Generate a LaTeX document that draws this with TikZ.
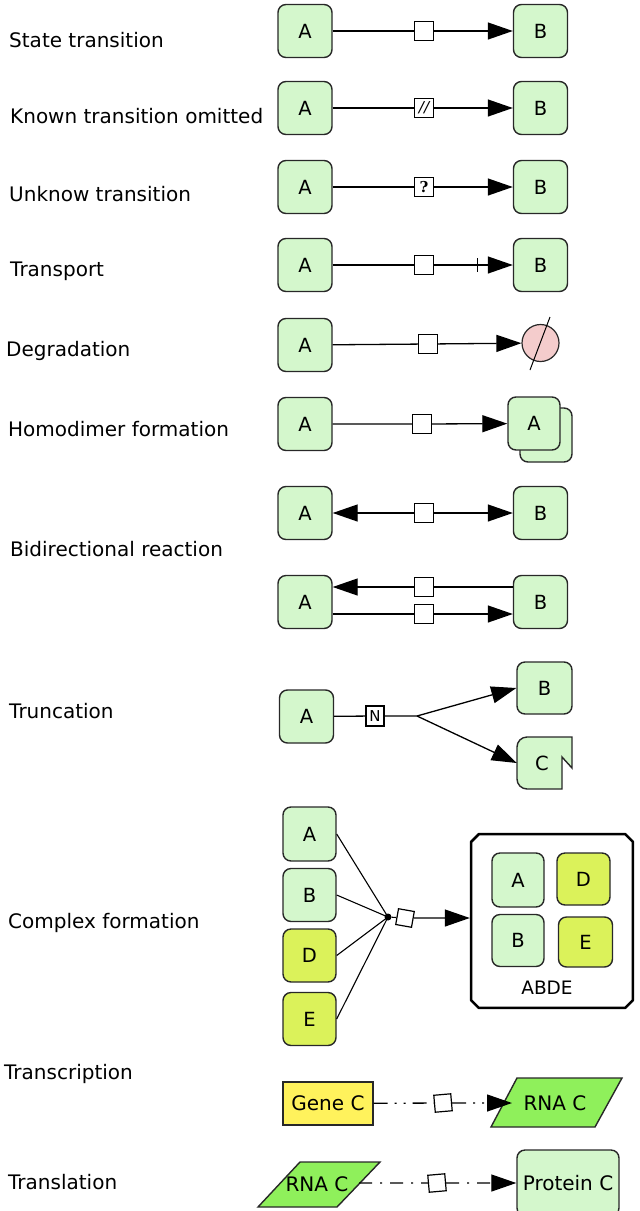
\documentclass[tikz,border=0pt]{standalone}
\usepackage{fontspec}
\setmainfont{DejaVu Sans}
\newfontfamily\serifq{DejaVu Serif}
\usetikzlibrary{arrows.meta,calc}
\definecolor{lg}{RGB}{212,247,204}
\definecolor{yg}{RGB}{219,242,90}
\definecolor{geneY}{RGB}{255,242,92}
\definecolor{rnaG}{RGB}{143,240,91}
\definecolor{pinkc}{RGB}{244,204,204}
\definecolor{edge}{RGB}{40,40,40}
\begin{document}
\begin{tikzpicture}[x=1pt,y=-1pt,
  lab/.style={anchor=base west, inner sep=0, font=\fontsize{20}{22}\selectfont},
  sp/.style={draw=edge, fill=lg, line width=1.4pt, rounded corners=8pt, minimum width=54pt, minimum height=53pt, inner sep=0, font=\fontsize{19.5}{21}\selectfont},
  spy/.style={sp, fill=yg},
  pr/.style={draw=black, fill=white, line width=1.2pt, minimum width=19pt, minimum height=19pt, inner sep=0, font=\fontsize{15}{15}\selectfont},
  ln/.style={line width=1.3pt},
  cn/.style={line width=1.3pt, -{Triangle[length=25pt,width=17pt]}},
  bigtxt/.style={font=\fontsize{20}{22}\selectfont},
]
\useasboundingbox[fill=white] (0,0) rectangle (640,1211);

% labels
\node[lab] (l1) at (9,47) {State transition};
\node[lab] (l2) at (10,123) {Known transition omitted};
\node[lab] (l3) at (9,201) {Unknow transition};
\node[lab] (l4) at (10,276) {Transport};
\node[lab] (l5) at (6,356) {Degradation};
\node[lab] (l6) at (8,436) {Homodimer formation};
\node[lab] (l7) at (10,556) {Bidirectional reaction};
\node[lab] (l8) at (9,718) {Truncation};
\node[lab] (l9) at (8,928) {Complex formation};
\node[lab] (l10) at (4,1079) {Transcription};
\node[lab] (l11) at (8,1189) {Translation};

% row 1 state transition
\node[sp] (a1) at (305,31) {A};
\node[sp] (b1) at (540.5,31) {B};
\node[pr] (p1) at (424,31) {};
\draw[cn] (a1) -- (p1) -- (b1);

% row 2 known transition omitted
\node[sp] (a2) at (305,108) {A};
\node[sp] (b2) at (540.5,108) {B};
\node[pr] (p2) at (424,108) {\itshape //};
\draw[cn] (a2) -- (p2) -- (b2);

% row 3 unknown transition
\node[sp] (a3) at (305,187) {A};
\node[sp] (b3) at (540.5,187) {B};
\node[pr] (p3) at (424,187) {\serifq\bfseries ?};
\draw[cn] (a3) -- (p3) -- (b3);

% row 4 transport
\node[sp] (a4) at (305,265) {A};
\node[sp] (b4) at (540.5,265) {B};
\node[pr] (p4) at (424,265) {};
\draw[cn] (a4) -- (p4) -- (b4);
\draw[ln] ($(b4.west)+(-35,-7)$) -- ++(0,14);

% row 5 degradation
\node[sp] (a5) at (305,345) {A};
\node[pr] (p5) at (428,344) {};
\node[circle, draw=edge, fill=pinkc, line width=1.2pt, minimum size=37pt, inner sep=0] (dg) at (540.5,343) {};
\draw[cn] (a5) -- (p5) -- (dg);
\draw[line width=1pt] ($(dg.center)+(9.5,-26)$) -- ($(dg.center)+(-10.5,27)$);

% row 6 homodimer
\node[sp] (a6) at (305,424) {A};
\node[sp, minimum width=52pt, minimum height=54pt] (h6) at (546,435) {};
\node[sp, minimum width=52pt, minimum height=53pt] (f6) at (534,423.5) {A};
\node[pr] (p6) at (422,424) {};
\draw[cn] (a6) -- (p6) -- (f6);

% row 7 bidirectional
\node[sp] (a7) at (305,513) {A};
\node[sp] (b7) at (540.5,513) {B};
\node[pr] (p7) at (424,513) {};
\draw[cn] (p7) -- (a7);
\draw[cn] (p7) -- (b7);

% row 8 bidirectional (two reactions)
\node[sp] (a8) at (305,602) {A};
\node[sp] (b8) at (540.5,602) {B};
\node[pr] (p8a) at (424,587) {};
\node[pr] (p8b) at (424,614) {};
\draw[cn] (b8.west |- p8a) -- (p8a) -- (a8.east |- p8a);
\draw[cn] (a8.east |- p8b) -- (p8b) -- (b8.west |- p8b);

% row 9 truncation
\node[sp] (a9) at (306.5,716.5) {A};
\node[pr, minimum width=18pt, minimum height=20pt, font=\fontsize{15}{15}\selectfont] (p9) at (375,716) {N};
\coordinate (s9) at (417,716);
\node[sp, minimum width=55pt, minimum height=52pt] (b9) at (544.5,688) {B};
\draw[draw=edge, fill=lg, line width=1.4pt]
  (572,737) -- (527,737) arc[start angle=270, end angle=180, radius=10]
  -- (517,779) arc[start angle=180, end angle=90, radius=10]
  -- (562,789) -- (562,757) -- (572,768) -- cycle;
\node[minimum width=55pt, minimum height=52pt, inner sep=0, font=\fontsize{19.5}{21}\selectfont] (c9) at (544.5,763) {\hspace*{-5pt}C};
\draw[ln] (a9) -- (p9) -- (s9);
\draw[cn] (s9) -- (b9.west);
\draw[cn] (s9) -- (c9.west);

% row 10 complex formation
\node[sp, minimum width=53pt, minimum height=54pt] (a10) at (309.5,834) {A};
\node[sp, minimum width=53pt, minimum height=53pt] (b10) at (309.5,895) {B};
\node[spy, minimum width=53pt, minimum height=53pt] (d10) at (309.5,955.5) {D};
\node[spy, minimum width=53pt, minimum height=53pt] (e10) at (309.5,1019) {E};
\node[circle, fill=black, minimum size=7pt, inner sep=0] (dt) at (388,917) {};
\node[pr, minimum width=16pt, minimum height=16pt, rotate=-10] (p10) at (405,918) {};
\draw[line width=1.1pt] (a10.east) -- (dt.center);
\draw[line width=1.1pt] (b10.east) -- (dt.center);
\draw[line width=1.1pt] (d10.east) -- (dt.center);
\draw[line width=1.1pt] (e10.east) -- (dt.center);
\draw[line width=1.1pt] (dt) -- (p10);
\node[minimum width=164pt, minimum height=176pt, inner sep=0] (cx) at (552,921) {};
\draw[line width=2.6pt, fill=white, line join=round]
  ($(cx.north west)+(9,1.3)$) -- ($(cx.north east)+(-9,1.3)$) -- ($(cx.north east)+(-1.3,9)$)
  -- ($(cx.south east)+(-1.3,-9)$) -- ($(cx.south east)+(-9,-1.3)$) -- ($(cx.south west)+(9,-1.3)$)
  -- ($(cx.south west)+(1.3,-9)$) -- ($(cx.north west)+(1.3,9)$) -- cycle;
\draw[cn] (p10) -- (p10 -| cx.west);
\node[sp, minimum width=52pt, minimum height=54pt] (ia) at (518,880) {A};
\node[spy, minimum width=53pt, minimum height=52pt] (id) at (583.5,879) {D};
\node[sp, minimum width=52pt, minimum height=52pt] (ib) at (518,940.5) {B};
\node[spy, minimum width=54pt, minimum height=50pt] (ie) at (585.5,942) {E};
\node[inner sep=0, font=\fontsize{18.5}{20}\selectfont] (cxl) at (547,988) {ABDE};

% row 11 transcription
\node[draw=edge, fill=geneY, line width=1.4pt, minimum width=90pt, minimum height=43pt, inner sep=0, bigtxt] (gene) at (328,1103.5) {Gene C};
\draw[draw=edge, fill=rnaG, line width=1.4pt] (491,1127) -- (517,1078) -- (622,1078) -- (595,1127) -- cycle;
\node[inner sep=0, bigtxt] (r1) at (555,1103) {RNA C};
\coordinate (r1in) at (512,1103);
\node[pr, minimum width=17pt, minimum height=17pt, rotate=5] (p11) at (443,1103) {};
\draw[cn, dash pattern=on 14pt off 7pt on 2pt off 7pt on 2pt off 7pt] (gene) -- (p11) -- (r1in);

% row 12 translation
\draw[draw=edge, fill=rnaG, line width=1.4pt] (300,1162) -- (380,1162) -- (337,1207) -- (258,1207) -- cycle;
\node[inner sep=0, bigtxt] (r2) at (317,1184) {RNA C};
\coordinate (r2out) at (359,1183);
\node[pr, minimum width=17pt, minimum height=17pt, rotate=5] (p12) at (437,1183) {};
\node[sp, minimum width=102pt, minimum height=66pt, bigtxt] (prot) at (568,1183) {Protein C};
\draw[cn, dash pattern=on 13pt off 8pt on 2pt off 8pt] (r2out) -- (p12) -- (prot);
\end{tikzpicture}
\end{document}
